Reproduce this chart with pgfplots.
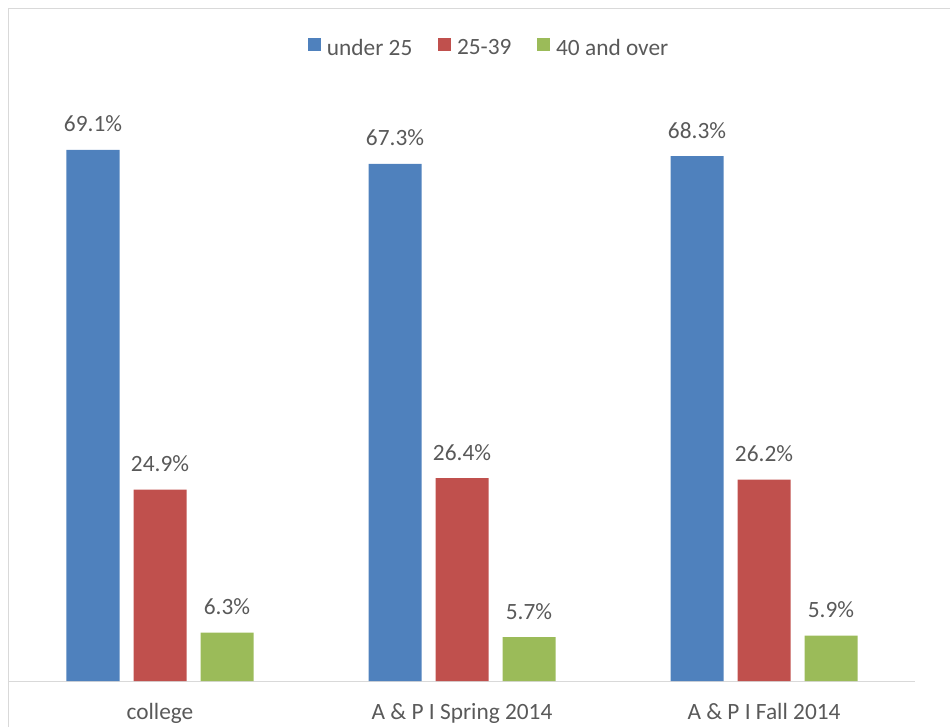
\documentclass[border=0pt]{standalone}
\usepackage{pgfplots}
\pgfplotsset{compat=1.18}
\usepackage{fontspec}
\setmainfont{Carlito}
\definecolor{cblue}{HTML}{4F81BD}
\definecolor{cred}{HTML}{C0504D}
\definecolor{cgreen}{HTML}{9BBB59}
\definecolor{ctext}{HTML}{595959}
\definecolor{cgrid}{HTML}{D9D9D9}
\newcommand{\cfont}{\fontsize{17.5}{21}\selectfont}
\begin{document}
\begin{tikzpicture}
\useasboundingbox (-6.75pt,-33.75pt) rectangle (705.75pt,510.75pt);
\draw[cgrid, line width=0.75pt] (-0.375pt,-40pt) -- (-0.375pt,504pt) -- (720pt,504pt);
\begin{axis}[
  at={(0pt,0pt)}, anchor=south west,
  scale only axis, width=679.5pt, height=461.1pt,
  ybar=10.5pt, bar width=39.75pt,
  ymin=0, ymax=80, xmin=-0.5, xmax=2.5,
  axis y line=none, axis x line*=bottom,
  x axis line style={cgrid, line width=0.75pt, -},
  xtick=data,
  xticklabels={college, A \& P I Spring 2014, A \& P I Fall 2014},
  major tick length=0pt,
  xticklabel style={font=\cfont, text=ctext, anchor=base, yshift=-28.5pt, inner sep=0pt},
  /pgf/number format/assume math mode=true,
  nodes near coords={\pgfmathprintnumber[fixed,fixed zerofill,precision=1]{\pgfplotspointmeta}\%},
  nodes near coords style={font=\cfont, text=ctext, anchor=base, yshift=13.5pt, inner sep=0pt},
  legend columns=3,
  legend style={at={(axis description cs:0.330,1.0304)}, anchor=west, draw=none, fill=none,
    inner sep=0pt, font=\cfont, text=ctext, nodes={inner sep=0pt},
    /tikz/every even column/.append style={column sep=19.5pt}},
  legend image code/.code={\fill[#1] (0pt,-1.6pt) rectangle (9.75pt,8.15pt); \path (14pt,0pt);},
]
\addplot[fill=cblue, draw=none] coordinates {(0,69.1) (1,67.3) (2,68.3)};
\addplot[fill=cred, draw=none] coordinates {(0,24.9) (1,26.4) (2,26.2)};
\addplot[fill=cgreen, draw=none] coordinates {(0,6.3) (1,5.7) (2,5.9)};
\legend{under 25, 25-39, 40 and over}
\end{axis}
\end{tikzpicture}
\end{document}
